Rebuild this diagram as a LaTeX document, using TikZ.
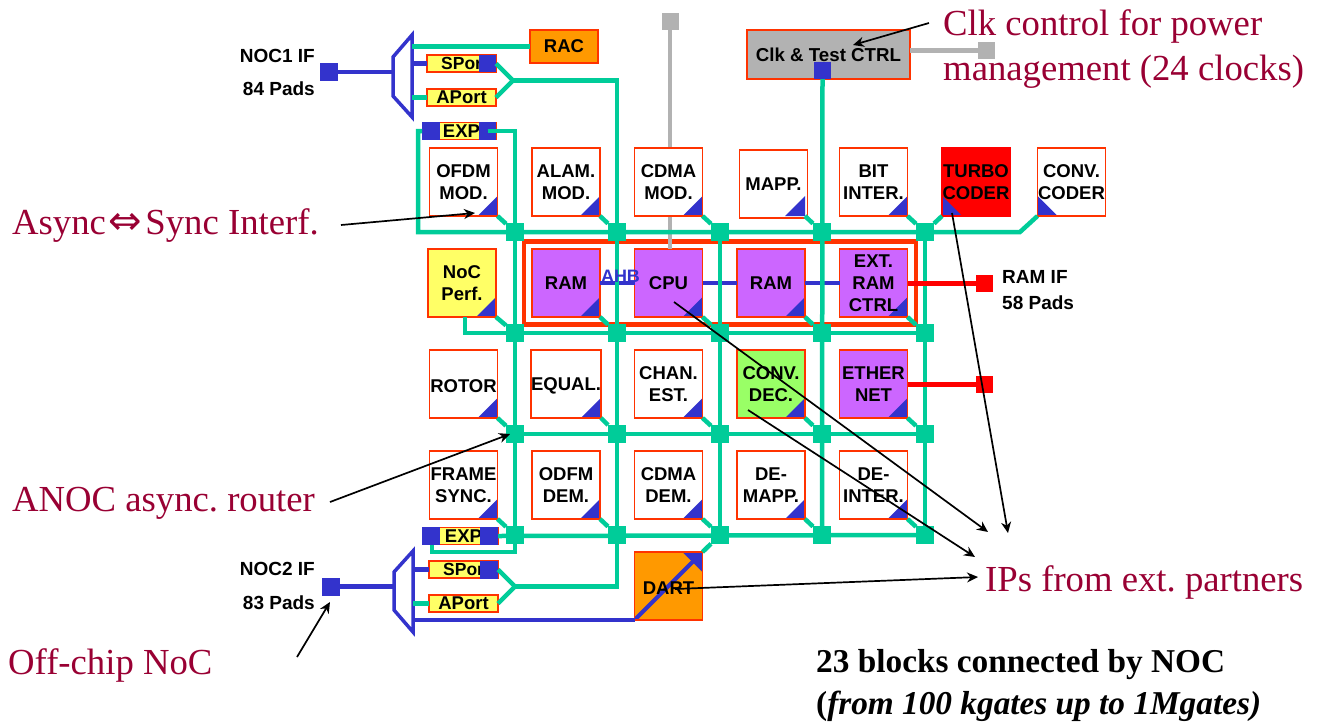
\documentclass[tikz,border=0pt]{standalone}
\usepackage{fontspec}
\usepackage{amsmath}
\usetikzlibrary{arrows.meta}
\setmainfont{Liberation Serif}
\setsansfont{Liberation Sans}
\newfontfamily\arrowfont{DejaVu Sans}
\frenchspacing
\definecolor{edgered}{HTML}{FF3300}
\definecolor{nocgreen}{HTML}{00CC99}
\definecolor{busblue}{HTML}{3333CC}
\definecolor{padgray}{HTML}{B2B2B2}
\definecolor{portyellow}{HTML}{FFFF66}
\definecolor{racorange}{HTML}{FF9900}
\definecolor{ippurple}{HTML}{CC66FF}
\definecolor{decgreen}{HTML}{99FF66}
\definecolor{notered}{HTML}{990033}
\tikzset{
	block/.style={draw=edgered,fill=white,line width=1.5pt,minimum width=68pt,minimum height=68pt,inner sep=0pt,outer sep=0pt,align=center,font=\sffamily\bfseries\fontsize{18.5}{22}\selectfont},
	textlow/.style={execute at begin node={\rule{0pt}{17.5pt}}},
	cornerse/.style={path picture={\fill[busblue] (path picture bounding box.south east) -- ++(-20,0) -- ++(20,-20) -- cycle;}},
	cornersw/.style={path picture={\fill[busblue] (path picture bounding box.south west) -- ++(20,0) -- ++(-20,-20) -- cycle;}},
	cornerdart/.style={path picture={\fill[busblue] (path picture bounding box.north east) -- ++(-20,0) -- ++(20,20) -- cycle;\draw[busblue,line width=4pt] (path picture bounding box.south west) -- (path picture bounding box.north east);}},
	port/.style={draw=edgered,fill=portyellow,line width=1.5pt,minimum width=69pt,minimum height=17pt,inner sep=0pt,outer sep=0pt,font=\sffamily\bfseries\fontsize{18.5}{20}\selectfont},
	sportbox/.style={port,font=\sffamily\bfseries\fontsize{17.5}{20}\selectfont},
	pad/.style={fill=busblue,minimum size=18pt,inner sep=0pt,outer sep=0pt},
	router/.style={fill=nocgreen,minimum size=18pt,inner sep=0pt,outer sep=0pt},
	noc/.style={draw=nocgreen,line width=4.5pt},
	bus/.style={draw=busblue,line width=4.5pt},
	sidelabel/.style={font=\sffamily\bfseries\fontsize{19}{21}\selectfont,inner sep=0pt},
	note/.style={text=notered,anchor=west,inner sep=0pt,font=\fontsize{36.7}{40}\selectfont},
	boldnote/.style={anchor=west,inner sep=0pt,font=\bfseries\fontsize{33.3}{36}\selectfont},
	callout/.style={arrows=-{Stealth[length=11pt,width=10pt]},line width=1.7pt,black},
}
\begin{document}
\begin{tikzpicture}[x=1pt,y=-1pt]
			\useasboundingbox (0,0) rectangle (1318,721);
			
			\node[draw=edgered,line width=4.5pt,minimum width=392pt,minimum height=83pt,outer sep=0pt] (ahbframe) at (720,283) {};
			
			\node[block,fill=ippurple,cornerse] (ram1) at (566,283) {RAM};
			\node[block,fill=ippurple,cornerse] (cpu) at (668.5,283) {CPU};
			\node[block,fill=ippurple,cornerse] (ram2) at (771,283) {RAM};
			\node[block,fill=ippurple,cornerse] (extram) at (873.5,283) {EXT.\\RAM\\CTRL};
			\draw[bus] (ram1) -- (cpu);
			\draw[bus] (cpu) -- (ram2);
			\draw[bus] (ram2) -- (extram);
			
			\node[fill=padgray,minimum size=17pt,inner sep=0pt] (graytop) at (670,21) {};
			\draw[draw=padgray,line width=4.5pt] (graytop) -- (graytop |- cpu.north);
			
			\node[block,textlow,cornerse] (ofdmmod) at (463.5,182) {OFDM\\MOD.};
			\node[block,textlow,cornerse] (alammod) at (566,182) {ALAM.\\MOD.};
			\node[block,textlow,cornerse] (cdmamod) at (668.5,182) {CDMA\\MOD.};
			\node[block] (mapp) at (773.5,184) {MAPP.};
			\fill[busblue] (805,216) -- ++(-20,0) -- ++(20,-20) -- cycle;
			\coordinate (mappcorner) at (805,216);
			\node[block,textlow,cornerse] (bitinter) at (873.5,182) {BIT\\INTER.};
			\node[block,textlow,fill=red,cornersw,draw=red] (turbo) at (976,182) {TURBO\\CODER};
			\node[block,textlow,cornersw] (convcoder) at (1071.5,182) {CONV.\\CODER};
			
			\node[block,textlow,fill=portyellow,cornerse] (nocperf) at (462,283) {NoC\\Perf.};
			
			\node[block,textlow,cornerse] (rotor) at (463.5,384) {ROTOR};
			\node[block,textlow,cornerse] (equal) at (566,384) {EQUAL.};
			\node[block,textlow,cornerse] (chanest) at (668.5,384) {CHAN.\\EST.};
			\node[block,textlow,fill=decgreen,cornerse] (convdec) at (771,384) {CONV.\\DEC.};
			\node[block,textlow,fill=ippurple,cornerse] (ethernet) at (873.5,384) {ETHER\\NET};
			
			\node[block,textlow,cornerse] (framesync) at (463.5,485) {FRAME\\SYNC.};
			\node[block,textlow,cornerse] (odfmdem) at (566,485) {ODFM\\DEM.};
			\node[block,textlow,cornerse] (cdmadem) at (668.5,485) {CDMA\\DEM.};
			\node[block,textlow,cornerse] (demapp) at (771,485) {DE-\\MAPP.};
			\node[block,textlow,cornerse] (deinter) at (873.5,485) {DE-\\INTER.};
			
			\node[block,textlow,fill=racorange,cornerdart] (dart) at (668.5,586) {DART};
			\node[block,fill=racorange,minimum height=33pt] (rac) at (564,46.5) {RAC};
			\node[block,fill=padgray,minimum width=163pt,minimum height=49pt,font=\sffamily\bfseries\fontsize{18.7}{21}\selectfont] (clkctrl) at (828.5,54.5) {Clk \& Test CTRL};
			\node[pad,minimum size=17pt] (clkpad) at (822.5,70.5) {};
			\node[fill=padgray,minimum size=17pt,inner sep=0pt] (grayclk) at (986.5,50.5) {};
			\draw[draw=padgray,line width=4.5pt] (clkctrl.east |- grayclk) -- (grayclk);
			
			\node[sportbox] (sport1) at (461.5,63.5) {\hspace{6pt}SPort};
			\node[pad,minimum size=17pt] (sportpad1) at (487.5,63.5) {};
			\node[port] (aport1) at (461.5,97.5) {APort};
			\node[port] (expt) at (461.5,131) {EXP};
			\node[pad] (exptl) at (431,131) {};
			\node[pad,minimum width=17pt] (exptr) at (487.5,131) {};
			
			\node[port] (expb) at (463.5,536) {EXP};
			\node[pad] (expbl) at (431,536) {};
			\node[pad] (expbr) at (489,536) {};
			\node[sportbox] (sport2) at (463.5,569.5) {\hspace{6pt}SPort};
			\node[pad] (sportpad2) at (489,569.5) {};
			\node[port] (aport2) at (463.5,603.5) {APort};
			
			\node[pad] (noc1pad) at (329,72) {};
			\node[pad] (noc2pad) at (331,586.5) {};
			\draw[bus,line width=3.5pt] (412,35) -- (393,57) -- (393,96) -- (412,117) -- cycle;
			\draw[bus,line width=3.5pt] (413,551) -- (394,572) -- (394,610) -- (413,632) -- cycle;
			\coordinate (mux1in) at (393,72);
			\coordinate (mux1rac) at (412,46.5);
			\coordinate (mux1s) at (412,63.5);
			\coordinate (mux1a) at (412,97.5);
			\coordinate (mux2in) at (394,586.5);
			\coordinate (mux2s) at (413,569.5);
			\coordinate (mux2a) at (413,603.5);
			\coordinate (mux2d) at (413,620);
			\draw[bus] (noc1pad) -- (mux1in);
			\draw[bus] (mux1s) -- (sport1);
			\draw[bus] (noc2pad) -- (mux2in);
			\draw[bus] (mux2s) -- (sport2);
			\draw[bus] (mux2d) -- (mux2d -| dart.south west);
			
			\node[router] (r11) at (515,232) {};
			\node[router] (r21) at (617,232) {};
			\node[router] (r31) at (720,232) {};
			\node[router] (r41) at (822,232) {};
			\node[router] (r51) at (925,232) {};
			\node[router] (r12) at (515,333) {};
			\node[router] (r22) at (617,333) {};
			\node[router] (r32) at (720,333) {};
			\node[router] (r42) at (822,333) {};
			\node[router] (r52) at (925,333) {};
			\node[router] (r13) at (515,434) {};
			\node[router] (r23) at (617,434) {};
			\node[router] (r33) at (720,434) {};
			\node[router] (r43) at (822,434) {};
			\node[router] (r53) at (925,434) {};
			\node[router] (r14) at (515,535) {};
			\node[router] (r24) at (617,535) {};
			\node[router] (r34) at (720,535) {};
			\node[router] (r44) at (822,535) {};
			\node[router] (r54) at (925,535) {};
			
			\coordinate (fork1) at (513,80.5);
			\coordinate (fork2) at (515,586.5);
			\coordinate (loopl) at (418,232);
			\coordinate (loopr) at (1020,232);
			\coordinate (perfdrop) at (465,333);
			\coordinate (loopb) at (432,552);
			
			\draw[noc] (mux1rac) -- (rac);
			\draw[noc] (mux1a) -- (aport1);
			\draw[noc] (mux2a) -- (aport2);
			\draw[noc] (sportpad1.east) -- (fork1);
			\draw[noc] (aport1.east) -- (fork1);
			\draw[noc] (fork1) -| (r24.center);
			\draw[noc] (sportpad2.east) -- (fork2);
			\draw[noc] (aport2.east) -- (fork2);
			\draw[noc] (fork2) -| (r24.center);
			\draw[noc] (exptr.center) -| (r14.center);
			\draw[noc] (exptl.west) -| (loopl) -- (loopr) -- (convcoder.south west);
			\draw[noc] (clkpad.south) -- (r44.center);
			\draw[noc] (r31.center) -- (r34.center);
			\draw[noc] (r51.center) -- (r54.center);
			\draw[noc] (perfdrop |- nocperf.south) -- (perfdrop) -- (r52.center);
			\draw[noc] (r13.center) -- (r53.center);
			\draw[noc] (expbr.east) -- (r54.center);
			\draw[noc] (expbl.south -| loopb) -- (loopb) -| (r14.center);
			
			\draw[noc] (ofdmmod.south east) -- (r11);
			\draw[noc] (alammod.south east) -- (r21);
			\draw[noc] (cdmamod.south east) -- (r31);
			\draw[noc] (mappcorner) -- (r41);
			\draw[noc] (bitinter.south east) -- (r51);
			\draw[noc] (turbo.south west) -- (r51);
			\draw[noc] (nocperf.south east) -- (r12);
			\draw[noc] (ram1.south east) -- (r22);
			\draw[noc] (cpu.south east) -- (r32);
			\draw[noc] (ram2.south east) -- (r42);
			\draw[noc] (extram.south east) -- (r52);
			\draw[noc] (rotor.south east) -- (r13);
			\draw[noc] (equal.south east) -- (r23);
			\draw[noc] (chanest.south east) -- (r33);
			\draw[noc] (convdec.south east) -- (r43);
			\draw[noc] (ethernet.south east) -- (r53);
			\draw[noc] (framesync.south east) -- (r14);
			\draw[noc] (odfmdem.south east) -- (r24);
			\draw[noc] (cdmadem.south east) -- (r34);
			\draw[noc] (demapp.south east) -- (r44);
			\draw[noc] (deinter.south east) -- (r54);
			\draw[noc] (dart.north east) -- (r34);
			
			\node[fill=red,minimum size=17pt,inner sep=0pt] (ramifpad) at (984.5,283.5) {};
			\node[fill=red,minimum size=17pt,inner sep=0pt] (etherpad) at (984.5,384.5) {};
			\draw[draw=red,line width=4.5pt] (extram.east |- ramifpad) -- (ramifpad);
			\draw[draw=red,line width=4.5pt] (ethernet.east |- etherpad) -- (etherpad);
			
			\node[text=busblue,font=\sffamily\bfseries\fontsize{18}{20}\selectfont,inner sep=0pt] (ahb) at (620.5,276) {AHB};
			
			\node[sidelabel,anchor=east] (noc1if) at (315,56) {NOC1 IF};
			\node[sidelabel,anchor=east] (noc1pads) at (315,89) {84 Pads};
			\node[sidelabel,anchor=east] (noc2if) at (315,569) {NOC2 IF};
			\node[sidelabel,anchor=east] (noc2pads) at (315,603) {83 Pads};
			\node[sidelabel,anchor=west] (ramif) at (1002,277) {RAM IF};
			\node[sidelabel,anchor=west] (ramifpads) at (1002,303) {58 Pads};
			
			\node[note] (clknote1) at (943,26) {Clk control for power};
			\node[note] (clknote2) at (943,72) {management (24 clocks)};
			\node[note] (syncnote) at (12,226) {Async\hspace{3pt}{\arrowfont\fontsize{40}{40}\selectfont ⇔}\hspace{3pt}Sync Interf.};
			\node[note] (anocnote) at (12,503) {ANOC async. router};
			\node[note] (ipnote) at (985,582) {IPs from ext. partners};
			\node[note] (offchipnote) at (8,665) {Off-chip NoC};
			\node[boldnote] (countnote) at (816,665) {23 blocks connected by NOC};
			\node[boldnote] (rangenote) at (816,706) {(\textit{from 100 kgates up to 1Mgates)}};
			
			\coordinate (clkfrom) at (929,23);
			\coordinate (clkto) at (853,45);
			\coordinate (syncfrom) at (341,225);
			\coordinate (syncto) at (475,213);
			\coordinate (anocfrom) at (330,502);
			\coordinate (anocto) at (510,434);
			\coordinate (offfrom) at (297,657);
			\coordinate (offto) at (330,602);
			\coordinate (dartfrom) at (675,589);
			\coordinate (dartto) at (978,577);
			\coordinate (cpufrom) at (674,302);
			\coordinate (cputo) at (988,532);
			\coordinate (decfrom) at (748,410);
			\coordinate (decto) at (975,557);
			\coordinate (turbofrom) at (952,213);
			\coordinate (turboto) at (1008,533);
			
			\draw[callout] (clkfrom) -- (clkto);
			\draw[callout] (syncfrom) -- (syncto);
			\draw[callout] (anocfrom) -- (anocto);
			\draw[callout] (offfrom) -- (offto);
			\draw[callout] (dartfrom) -- (dartto);
			\draw[callout] (cpufrom) -- (cputo);
			\draw[callout] (decfrom) -- (decto);
			\draw[callout] (turbofrom) -- (turboto);
			
		\end{tikzpicture}
\end{document}
